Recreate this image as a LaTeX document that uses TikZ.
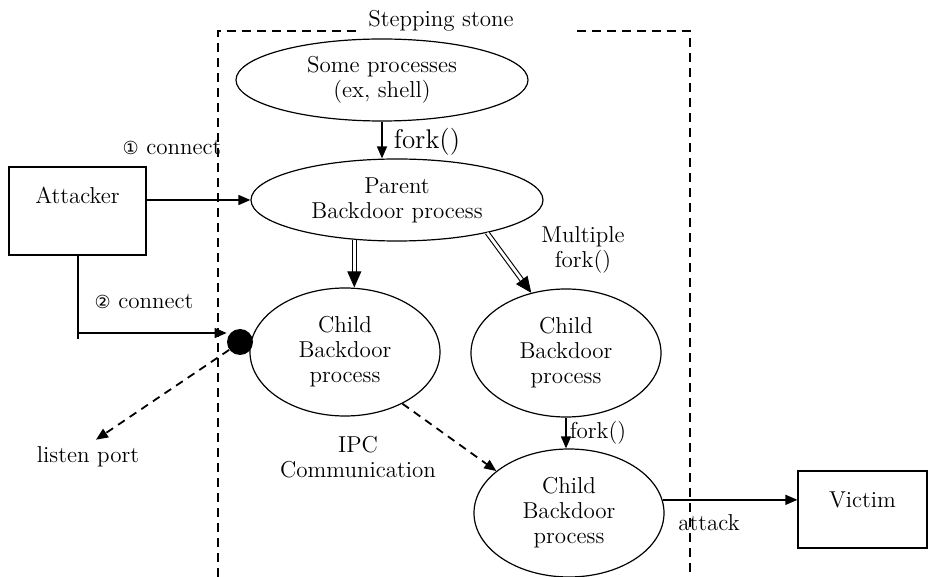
\documentclass[tikz,border=0pt]{standalone}
\usepackage{fontspec}
\newfontfamily\circfont{DejaVu Sans}
\usetikzlibrary{shapes.geometric,arrows.meta,calc}

\begin{document}
\begin{tikzpicture}[x=0.5pt,y=-0.5pt,
    font=\fontsize{11.5}{12.5}\selectfont,
    >={Triangle[length=6pt,width=5pt]},
    proc/.style={draw,ellipse,line width=0.6pt,inner sep=0pt,align=center},
    bigproc/.style={proc,minimum width=146pt,minimum height=41pt},
    childproc/.style={proc,minimum width=95pt,minimum height=64pt},
    host/.style={draw,rectangle,line width=0.6pt,inner sep=0pt},
    link/.style={line width=0.75pt},
    ipc/.style={line width=0.9pt,dash pattern=on 4pt off 3pt},
    zone/.style={line width=1.3pt,dash pattern=on 4.5pt off 3pt},
    dbl/.style={double,double distance=1.4pt,line width=0.55pt,shorten >=6pt},
    bighead/.style={-{Triangle[length=8pt,width=7pt]}}]

  \useasboundingbox (0,0) rectangle (928,577);

  % stepping stone zone
  \draw[zone] (218,577) -- (218,31) -- (360,31);
  \draw[zone] (577,31) -- (690,31) -- (690,577);
  \node (title) at (441,21) {Stepping stone};

  \node[bigproc] (some) at (382,80) {Some processes\\(ex, shell)};
  \node[bigproc] (parent) at (397,200) {Parent\\Backdoor process};
  \node[childproc] (child1) at (345,352) {Child\\Backdoor\\process};
  \node[childproc] (child2) at (566,353) {Child\\Backdoor\\process};
  \node[childproc] (child3) at (569,513) {Child\\Backdoor\\process};

  \node[host,minimum width=68.5pt,minimum height=44pt,text depth=16pt] (attacker) at (77.5,211) {Attacker};
  \node[host,minimum width=64.5pt,minimum height=38.5pt,text depth=10pt] (victim) at (862.5,509.5) {Victim};
  \node[circle,fill,inner sep=0pt,minimum size=13pt] (port) at (240,342) {};

  \node (c1lbl) at (172,148) {{\circfont\fontsize{9}{9}\selectfont ①} connect};
  \node (c2lbl) at (144,302) {{\circfont\fontsize{9}{9}\selectfont ②} connect};
  \node[font=\fontsize{13.5}{15}\selectfont] (fork1) at (427,142) {fork()};
  \node[align=center] (multi) at (583,250) {Multiple\\fork()};
  \node (fork2) at (598,433) {fork()};
  \node (atk) at (709,523) {attack};
  \node (listen) at (88,457) {listen port};
  \node[align=center] (ipc) at (358,457) {IPC\\Communication};

  \draw[link,->] (some.south) -- (some.south |- parent.north);
  \draw[link,->] (attacker.east |- parent.west) -- (parent.west);

  \coordinate (turn) at (77.5,333);
  \coordinate (tail) at (77.5,339);
  \draw[line width=1pt] (attacker.south) -- (tail);
  \draw[link,->] (turn) -- (turn -| port.west);
  \draw[ipc,->] (port.216) -- ([xshift=4pt]listen.north);

  % fork arrows
  \coordinate (d1s) at (parent.223);
  \coordinate (d1e) at (parent.223 |- child1.north);
  \draw[dbl] (d1s) -- (d1e);
  \draw[bighead] ($(d1e)!7pt!(d1s)$) -- (d1e);
  \coordinate (d2s) at (parent.-20);
  \coordinate (d2e) at (child2.120);
  \draw[dbl] (d2s) -- (d2e);
  \draw[bighead] ($(d2e)!7pt!(d2s)$) -- (d2e);

  \draw[link,->] (child2.south) -- (child2.south |- child3.north);
  \draw[ipc,->] (child1.-42) -- (child3.150);
  \draw[link,->] (child3.8) -- (child3.8 -| victim.west);
\end{tikzpicture}
\end{document}
